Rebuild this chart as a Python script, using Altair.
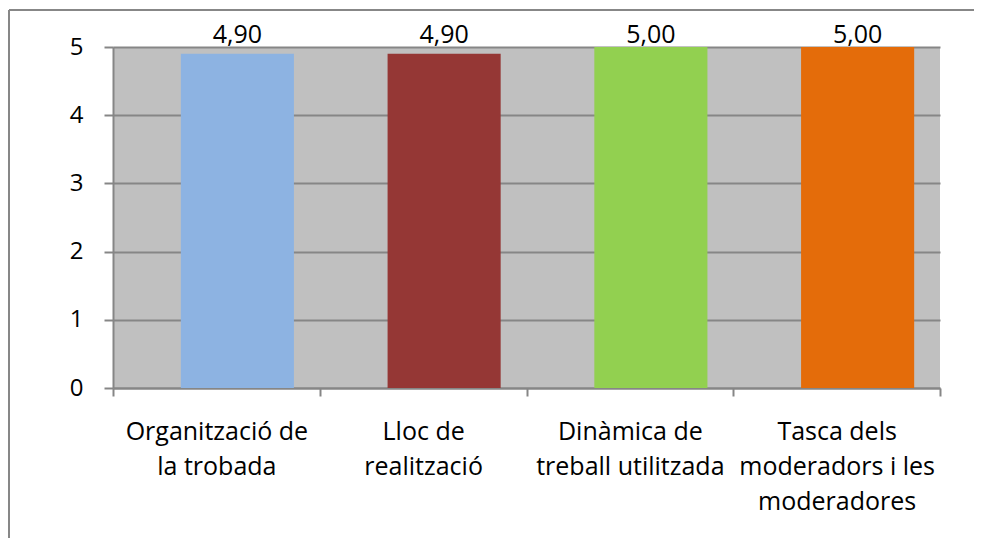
import altair as alt
import pandas as pd

categories = [
    "Organització de|la trobada",
    "Lloc de|realització",
    "Dinàmica de|treball utilitzada",
    "Tasca dels|moderadors i les|moderadores",
]
values = [4.90, 4.90, 5.00, 5.00]
colors = ["#8DB3E2", "#953735", "#92D050", "#E46C0A"]
y_ticks = [0, 1, 2, 3, 4, 5]

df = pd.DataFrame({"cat": categories, "value": values})

FONT = "Open Sans"
GRID = "#868686"

x_enc = alt.X(
    "cat:N",
    sort=categories,
    scale=alt.Scale(paddingInner=0, paddingOuter=0),
    axis=alt.Axis(
        title=None,
        labelAngle=0,
        labelExpr="split(datum.label, '|')",
        labelFont=FONT,
        labelFontSize=25,
        labelColor="black",
        labelLineHeight=35,
        labelPadding=23,
        labelBaseline="top",
        labelLimit=400,
        tickBand="extent",
        tickColor=GRID,
        tickWidth=2,
        tickSize=8,
        domainColor=GRID,
        domainWidth=2,
    ),
)
y_axis = alt.Axis(
    title=None,
    values=y_ticks,
    format="d",
    grid=True,
    gridColor=GRID,
    gridWidth=2,
    domainColor=GRID,
    domainWidth=2,
    tickColor=GRID,
    tickWidth=2,
    tickSize=9,
    labelPadding=21,
    labelFont=FONT,
    labelFontSize=24,
    labelColor="black",
)
y_scale = alt.Scale(domain=[0, 5], nice=False)

base = alt.Chart(df).transform_calculate(
    lbl="replace(format(datum.value, '.2f'), '.', ',')"
)

bars = base.mark_bar(width=alt.RelativeBandSize(0.547), xOffset=21).encode(
    x=x_enc,
    y=alt.Y("value:Q", scale=y_scale, axis=y_axis),
    color=alt.Color("cat:N", scale=alt.Scale(domain=categories, range=colors), legend=None),
)

labels = (
    base.transform_joinaggregate(top="max(value)")
    .mark_text(baseline="alphabetic", dy=-4, xOffset=21, font=FONT, fontSize=25, color="black")
    .encode(x=x_enc, y=alt.Y("top:Q", scale=y_scale, axis=y_axis), text="lbl:N")
)

border_data = alt.Data(values=[{}])
left_border = alt.Chart(border_data).mark_rule(color="#878787", strokeWidth=2).encode(
    x=alt.value(-104), y=alt.value(-37), y2=alt.value(499)
)
top_border = alt.Chart(border_data).mark_rule(color="#878787", strokeWidth=2).encode(
    x=alt.value(-104), x2=alt.value(869), y=alt.value(-37)
)

chart = (
    alt.layer(bars, labels, left_border, top_border)
    .properties(
        width=827,
        height=341,
        autosize=alt.AutoSizeParams(type="none"),
        padding={"left": 105, "top": 39, "right": 34, "bottom": 150},
        background="white",
    )
    .configure_view(fill="#C0C0C0", strokeWidth=0)
)

chart.save("out.html", embed_options={"renderer": "svg", "actions": False})
